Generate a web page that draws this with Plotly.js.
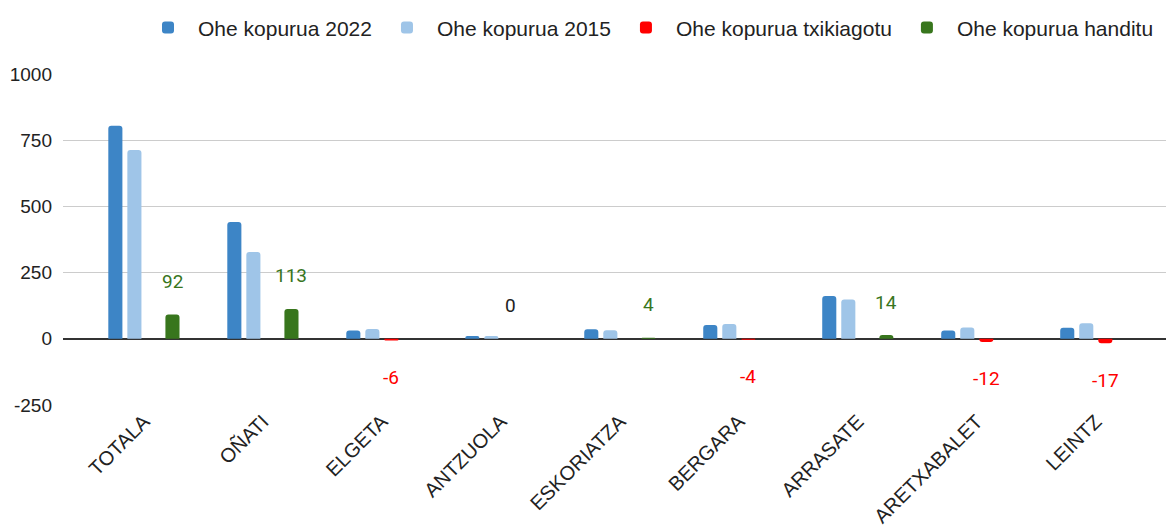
<!DOCTYPE html>
<html>
<head>
<meta charset="utf-8">
<script src="https://cdn.plot.ly/plotly-3.0.1.min.js"></script>
<style>
  html, body { margin: 0; padding: 0; background: #fff; }
  #grafika { width: 1166px; height: 527px; }
</style>
</head>
<body>
<div id="grafika"></div>
<script>
// udalerriak
var herriak = ['TOTALA', 'OÑATI', 'ELGETA', 'ANTZUOLA', 'ESKORIATZA', 'BERGARA', 'ARRASATE', 'ARETXABALET', 'LEINTZ'];
var ohe2022 = [805, 441, 31, 11, 36, 52, 162, 31, 42];
var ohe2015 = [713, 328, 37, 11, 32, 56, 148, 43, 59];
var txikiagotu = [null, null, -6, 0, null, -4, null, -12, -17];
var handitu = [92, 113, null, null, 4, null, 14, null, null];
var yTikak = [-250, 0, 250, 500, 750, 1000];

var kolore2022 = '#3d85c6';
var kolore2015 = '#9fc5e8';
var koloreGorria = '#ff0000';
var koloreBerdea = '#38761d';

function barra(izena, balioak, kolorea) {
    return {
        type: 'bar',
        name: izena,
        x: herriak,
        y: balioak,
        marker: { color: kolorea, cornerradius: 3 },
        hoverinfo: 'x+y'
    };
}

var data = [
    barra('Ohe kopurua 2022', ohe2022, kolore2022),
    barra('Ohe kopurua 2015', ohe2015, kolore2015),
    barra('Ohe kopurua txikiagotu', txikiagotu, koloreGorria),
    barra('Ohe kopurua handitu', handitu, koloreBerdea)
];

// etiketak, barra bakoitzaren gainean/azpian
var etiketak = [];
function gehituEtiketak(balioak, kolorea, desplazamendua) {
    balioak.forEach(function(b, i) {
        if (b === null) return;
        etiketak.push({
            x: herriak[i], y: b, xref: 'x', yref: 'y',
            text: String(b), showarrow: false,
            xshift: desplazamendua,
            yshift: b >= 0 ? 33 : -37,
            font: { family: 'Roboto, sans-serif', size: 19, color: b === 0 ? '#222222' : kolorea }
        });
    });
}
gehituEtiketak(txikiagotu, koloreGorria, 9.5);
gehituEtiketak(handitu, koloreBerdea, 28.5);

var layout = {
    width: 1166,
    height: 527,
    margin: { l: 63, r: 0, t: 74, b: 122 },
    paper_bgcolor: '#ffffff',
    plot_bgcolor: '#ffffff',
    barmode: 'group',
    bargap: 0.36,
    bargroupgap: 0.26,
    showlegend: true,
    legend: {
        orientation: 'h',
        xref: 'container', yref: 'container',
        x: 0.994, xanchor: 'right',
        y: 0.947, yanchor: 'middle',
        itemwidth: 50,
        font: { family: 'Liberation Sans, Arial, sans-serif', size: 21, color: '#222222' }
    },
    xaxis: {
        type: 'category',
        range: [-0.68, 8.59],
        tickangle: -45,
        showgrid: false,
        showline: false,
        ticks: '',
        tickfont: { family: 'Liberation Sans, Arial, sans-serif', size: 20, color: '#222222' }
    },
    yaxis: {
        range: [-250, 1000],
        tickvals: yTikak,
        ticktext: yTikak.map(String),
        showgrid: true,
        gridcolor: '#cccccc',
        gridwidth: 1,
        zeroline: true,
        zerolinecolor: '#333333',
        zerolinewidth: 1.5,
        ticks: '',
        ticklabelstandoff: 10,
        tickfont: { family: 'Liberation Sans, Arial, sans-serif', size: 19, color: '#222222' }
    },
    annotations: etiketak
};

Plotly.newPlot('grafika', data, layout, { displayModeBar: false, staticPlot: true });
</script>
</body>
</html>
